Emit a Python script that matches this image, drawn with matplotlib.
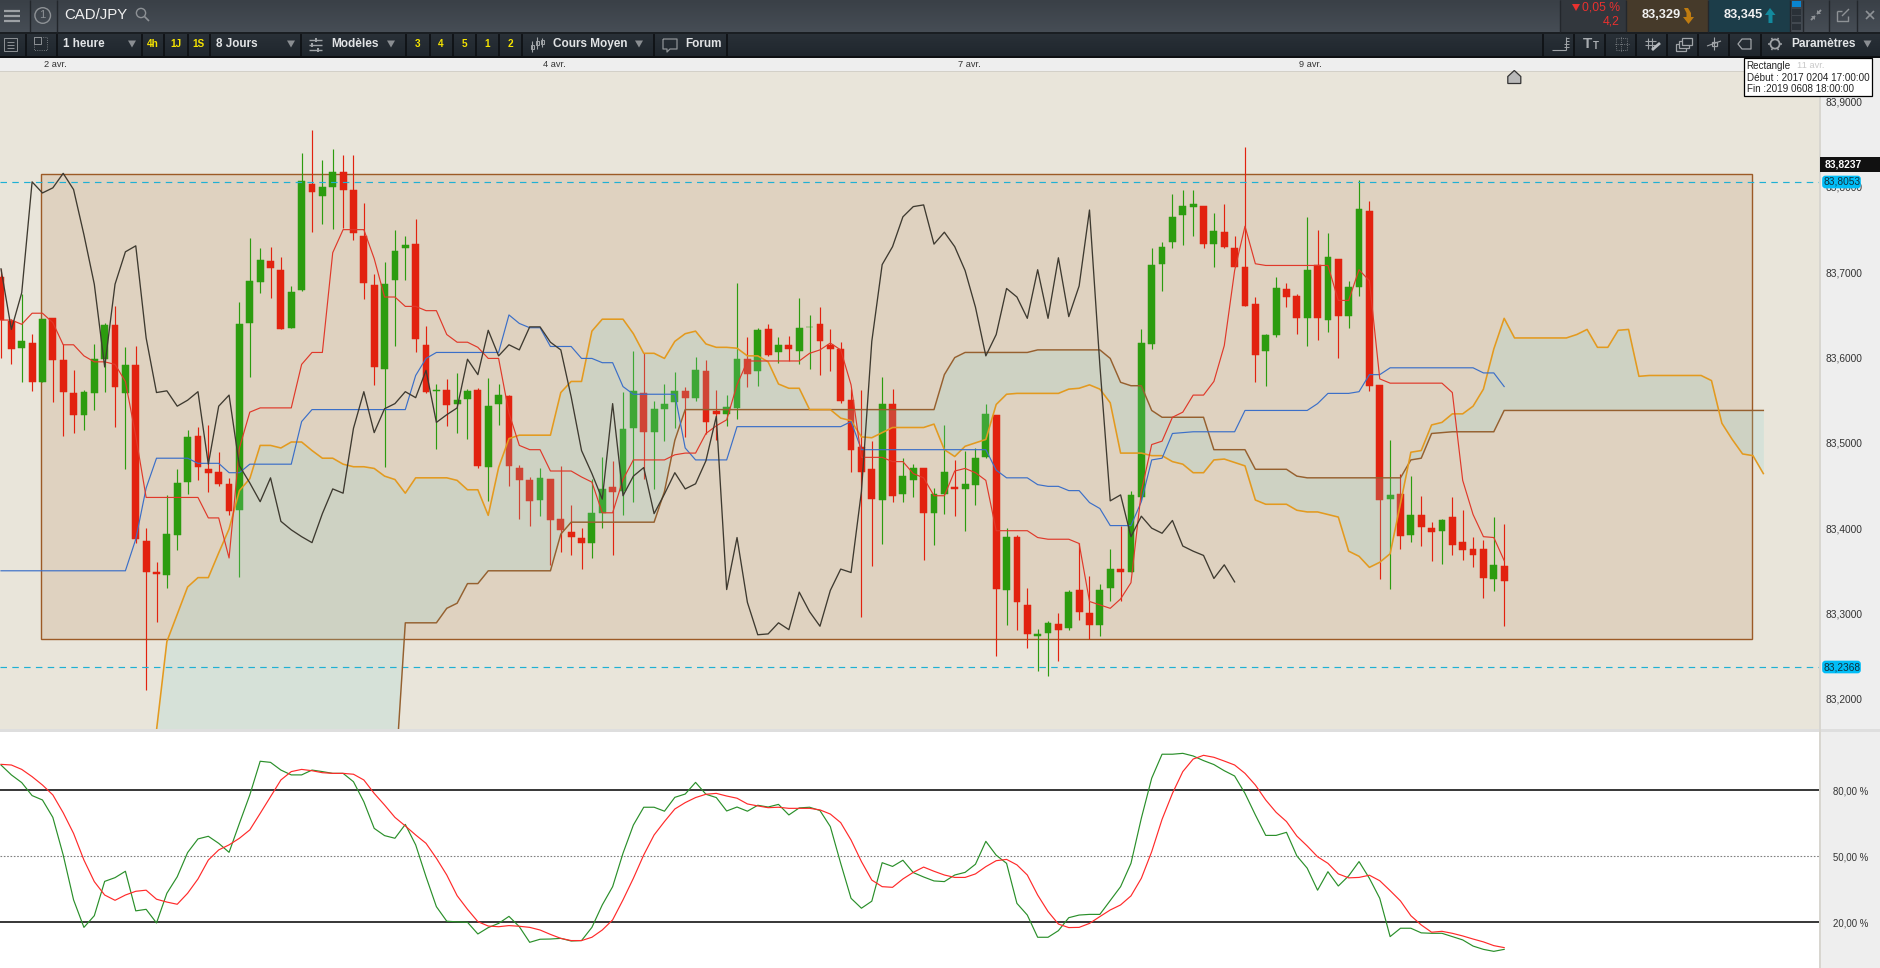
import matplotlib
matplotlib.use("Agg")
import matplotlib.pyplot as plt
import numpy as np
from matplotlib.patches import Rectangle, Polygon, Circle, FancyBboxPatch

plt.rcParams['font.family'] = ['Liberation Sans', 'DejaVu Sans']

# ---------- candle data (CAD/JPY, 1 hour) ----------
directions = ("rrgrgrrrgg" "grgrrrgggr" "rrrgggrrgg" "rggrrrrggg" "rrgrggrggr" "rrgrrrrggr" "ggrgggrgrr" "ggrgrgrggr"
              "rrrrrgrggr" "ggrgggrgrr" "ggrgrrggrg" "ggggggrgrr" "rrggrrgrgr" "ggrrgrgrrg" "rrrrgr")
highs = [83.704,83.645,83.674,83.628,83.645,83.646,83.616,83.585,83.562,83.616,83.641,83.661,83.612,83.613,83.400,83.360,83.439,83.469,83.515,83.519,
 83.521,83.489,83.459,83.665,83.740,83.728,83.730,83.718,83.684,83.840,83.867,83.832,83.845,83.837,83.837,83.781,83.698,83.712,83.750,83.743,
 83.763,83.637,83.569,83.575,83.582,83.563,83.564,83.576,83.569,83.556,83.474,83.460,83.471,83.458,83.473,83.427,83.400,83.458,83.484,83.479,
 83.560,83.608,83.605,83.549,83.569,83.583,83.566,83.601,83.597,83.562,83.556,83.688,83.624,83.635,83.639,83.624,83.625,83.670,83.650,83.659,
 83.633,83.618,83.563,83.562,83.502,83.577,83.563,83.482,83.475,83.471,83.447,83.521,83.480,83.490,83.494,83.546,83.533,83.400,83.392,83.330,
 83.282,83.291,83.301,83.327,83.383,83.344,83.335,83.376,83.403,83.444,83.634,83.729,83.735,83.792,83.796,83.796,83.778,83.770,83.780,83.743,
 83.847,83.671,83.628,83.695,83.688,83.674,83.765,83.749,83.746,83.716,83.690,83.808,83.784,83.568,83.503,83.464,83.461,83.438,83.407,83.411,
 83.437,83.421,83.390,83.386,83.413,83.405]
body_tops = [83.694,83.643,83.619,83.617,83.645,83.646,83.597,83.559,83.560,83.598,83.638,83.638,83.591,83.591,83.385,83.349,83.393,83.453,83.507,83.508,
 83.469,83.466,83.452,83.639,83.690,83.714,83.713,83.703,83.677,83.807,83.804,83.800,83.817,83.818,83.796,83.743,83.685,83.686,83.725,83.732,
 83.733,83.615,83.562,83.562,83.550,83.561,83.562,83.543,83.556,83.555,83.471,83.457,83.459,83.458,83.411,83.395,83.389,83.418,83.446,83.448,
 83.516,83.561,83.559,83.540,83.546,83.561,83.561,83.586,83.584,83.537,83.542,83.598,83.598,83.632,83.633,83.615,83.615,83.635,83.636,83.639,
 83.615,83.610,83.550,83.495,83.469,83.546,83.546,83.461,83.471,83.471,83.440,83.466,83.448,83.452,83.482,83.534,83.533,83.390,83.390,83.310,
 83.276,83.289,83.288,83.325,83.327,83.301,83.327,83.352,83.352,83.439,83.617,83.709,83.730,83.765,83.778,83.780,83.778,83.748,83.747,83.729,
 83.706,83.663,83.626,83.681,83.680,83.672,83.703,83.708,83.718,83.716,83.683,83.774,83.772,83.568,83.439,83.440,83.415,83.415,83.400,83.409,
 83.413,83.384,83.376,83.376,83.357,83.356]
body_bottoms = [83.644,83.610,83.611,83.571,83.571,83.597,83.560,83.533,83.533,83.559,83.598,83.565,83.558,83.387,83.348,83.346,83.345,83.392,83.454,83.472,
 83.465,83.452,83.420,83.421,83.641,83.689,83.705,83.634,83.635,83.679,83.794,83.790,83.800,83.797,83.746,83.688,83.589,83.587,83.691,83.728,
 83.622,83.560,83.561,83.544,83.545,83.551,83.473,83.472,83.546,83.473,83.456,83.432,83.433,83.409,83.398,83.390,83.383,83.383,83.418,83.442,
 83.444,83.518,83.513,83.513,83.540,83.548,83.553,83.553,83.525,83.534,83.534,83.541,83.581,83.584,83.603,83.606,83.610,83.608,83.636,83.619,
 83.610,83.549,83.492,83.466,83.434,83.433,83.438,83.440,83.456,83.418,83.418,83.440,83.446,83.446,83.451,83.484,83.329,83.328,83.313,83.276,
 83.274,83.277,83.281,83.283,83.302,83.286,83.286,83.330,83.349,83.349,83.436,83.616,83.710,83.735,83.767,83.777,83.733,83.733,83.730,83.706,
 83.661,83.603,83.608,83.626,83.671,83.646,83.646,83.646,83.644,83.649,83.649,83.683,83.567,83.433,83.434,83.391,83.392,83.401,83.395,83.397,
 83.380,83.374,83.369,83.342,83.340,83.338]
lows = [83.599,83.593,83.571,83.561,83.571,83.548,83.508,83.511,83.515,83.538,83.560,83.519,83.469,83.383,83.210,83.290,83.330,83.374,83.440,83.457,
 83.442,83.450,83.415,83.343,83.577,83.676,83.670,83.633,83.635,83.678,83.747,83.757,83.751,83.752,83.738,83.669,83.568,83.472,83.613,83.691,
 83.606,83.559,83.493,83.520,83.511,83.505,83.470,83.432,83.521,83.449,83.411,83.402,83.414,83.357,83.372,83.368,83.352,83.365,83.400,83.369,
 83.415,83.431,83.458,83.446,83.502,83.517,83.507,83.549,83.510,83.503,83.520,83.528,83.565,83.567,83.602,83.594,83.596,83.593,83.587,83.580,
 83.584,83.547,83.466,83.296,83.356,83.381,83.431,83.431,83.436,83.363,83.380,83.416,83.414,83.397,83.427,83.482,83.250,83.286,83.280,83.259,
 83.232,83.227,83.244,83.280,83.292,83.270,83.273,83.315,83.314,83.348,83.433,83.610,83.678,83.728,83.732,83.743,83.728,83.706,83.729,83.706,
 83.661,83.571,83.567,83.624,83.659,83.628,83.613,83.621,83.630,83.599,83.635,83.672,83.561,83.340,83.329,83.375,83.384,83.379,83.362,83.358,
 83.369,83.363,83.355,83.318,83.326,83.285]

# ---------- Ichimoku lines ----------
tenkan = [83.644,83.644,83.639,83.652,83.652,83.641,83.615,83.615,83.602,83.595,83.595,83.592,83.572,83.508,83.436,83.436,83.436,83.436,83.436,83.436,
 83.412,83.412,83.365,83.494,83.536,83.541,83.541,83.541,83.541,83.592,83.606,83.606,83.723,83.750,83.750,83.750,83.716,83.671,83.671,83.660,
 83.660,83.655,83.655,83.627,83.618,83.618,83.612,83.599,83.599,83.535,83.497,83.492,83.492,83.467,83.467,83.467,83.460,83.454,83.418,83.418,
 83.457,83.480,83.480,83.480,83.480,83.486,83.488,83.488,83.511,83.520,83.527,83.568,83.596,83.596,83.596,83.596,83.596,83.596,83.605,83.609,
 83.617,83.609,83.568,83.483,83.483,83.483,83.478,83.478,83.464,83.459,83.438,83.438,83.467,83.470,83.465,83.456,83.397,83.397,83.397,83.397,
 83.389,83.387,83.387,83.387,83.382,83.314,83.310,83.306,83.317,83.336,83.443,83.498,83.502,83.530,83.536,83.556,83.556,83.572,83.614,83.702,
 83.754,83.710,83.708,83.708,83.708,83.708,83.708,83.708,83.708,83.667,83.667,83.703,83.690,83.575,83.570,83.570,83.570,83.570,83.570,83.570,
 83.559,83.456,83.416,83.390,83.389,83.362]
kijun = [83.350,83.350,83.350,83.350,83.350,83.350,83.350,83.350,83.350,83.350,83.350,83.350,83.350,83.387,83.447,83.482,83.482,83.482,83.482,83.476,
 83.476,83.476,83.465,83.465,83.475,83.475,83.475,83.475,83.475,83.525,83.539,83.539,83.539,83.539,83.539,83.539,83.539,83.539,83.539,83.539,
 83.579,83.599,83.606,83.606,83.606,83.606,83.606,83.606,83.606,83.650,83.640,83.635,83.635,83.613,83.613,83.613,83.599,83.599,83.594,83.594,
 83.566,83.557,83.557,83.557,83.557,83.557,83.494,83.480,83.480,83.480,83.480,83.519,83.519,83.519,83.519,83.519,83.519,83.519,83.519,83.519,
 83.519,83.519,83.525,83.492,83.492,83.492,83.492,83.492,83.492,83.492,83.492,83.492,83.492,83.492,83.492,83.492,83.468,83.459,83.459,83.459,
 83.451,83.449,83.449,83.444,83.444,83.430,83.423,83.403,83.403,83.403,83.431,83.480,83.482,83.511,83.512,83.513,83.513,83.513,83.513,83.513,
 83.538,83.538,83.538,83.538,83.538,83.538,83.538,83.546,83.558,83.558,83.558,83.560,83.580,83.580,83.588,83.588,83.588,83.588,83.588,83.588,
 83.588,83.588,83.588,83.582,83.582,83.566]
chikou = [83.704,83.633,83.676,83.806,83.793,83.799,83.816,83.797,83.744,83.686,83.589,83.686,83.724,83.731,83.623,83.559,83.561,83.543,83.550,83.560,
 83.475,83.543,83.556,83.473,83.453,83.431,83.459,83.408,83.398,83.390,83.383,83.417,83.446,83.441,83.517,83.560,83.512,83.540,83.546,83.560,
 83.553,83.585,83.524,83.533,83.541,83.598,83.580,83.632,83.602,83.615,83.609,83.636,83.636,83.618,83.609,83.554,83.491,83.464,83.434,83.546,
 83.438,83.461,83.471,83.417,83.440,83.465,83.446,83.452,83.479,83.531,83.328,83.389,83.313,83.275,83.276,83.289,83.281,83.325,83.302,83.285,
 83.327,83.352,83.348,83.443,83.619,83.709,83.730,83.765,83.777,83.779,83.733,83.747,83.730,83.702,83.659,83.602,83.627,83.681,83.671,83.646,
 83.703,83.646,83.717,83.648,83.684,83.773,83.591,83.432,83.439,83.390,83.414,83.400,83.394,83.409,83.379,83.373,83.368,83.341,83.357,83.337]
cloud_start = 15
span_a = [83.163,83.267,83.299,83.331,83.342,83.342,83.371,83.399,83.444,83.458,83.497,83.497,83.494,83.501,83.501,83.491,83.482,83.482,83.475,83.472,
 83.472,83.470,83.461,83.457,83.441,83.459,83.459,83.459,83.459,83.456,83.445,83.445,83.415,83.471,83.505,83.509,83.509,83.509,83.509,83.559,
 83.572,83.572,83.631,83.645,83.645,83.645,83.628,83.605,83.605,83.599,83.619,83.628,83.631,83.616,83.612,83.612,83.611,83.602,83.602,83.595,
 83.569,83.564,83.564,83.539,83.539,83.539,83.529,83.526,83.507,83.506,83.512,83.518,83.518,83.518,83.518,83.522,83.492,83.484,83.496,83.500,
 83.504,83.545,83.557,83.558,83.558,83.558,83.558,83.558,83.563,83.564,83.568,83.563,83.547,83.488,83.488,83.488,83.485,83.485,83.478,83.475,
 83.465,83.465,83.480,83.481,83.477,83.473,83.433,83.428,83.428,83.428,83.421,83.419,83.419,83.416,83.413,83.373,83.367,83.354,83.360,83.370,
 83.429,83.489,83.491,83.521,83.524,83.534,83.534,83.543,83.563,83.610,83.646,83.623,83.623,83.623,83.623,83.623,83.623,83.627,83.633,83.612,
 83.612,83.632,83.633,83.578,83.579,83.579,83.579,83.579,83.579,83.579,83.573,83.523,83.504,83.487,83.485,83.464]
span_b = [83.100,83.100,83.100,83.100,83.100,83.100,83.100,83.100,83.100,83.100,83.100,83.100,83.100,83.100,83.100,83.100,83.100,83.100,83.100,83.100,
 83.100,83.100,83.100,83.100,83.289,83.289,83.289,83.289,83.306,83.312,83.335,83.335,83.350,83.350,83.350,83.350,83.350,83.350,83.350,83.393,
 83.407,83.407,83.407,83.407,83.407,83.407,83.407,83.407,83.407,83.443,83.503,83.539,83.539,83.539,83.539,83.539,83.539,83.539,83.539,83.539,
 83.539,83.539,83.539,83.539,83.539,83.539,83.539,83.539,83.539,83.539,83.539,83.539,83.539,83.539,83.539,83.539,83.580,83.600,83.606,83.606,
 83.606,83.606,83.606,83.606,83.606,83.609,83.609,83.609,83.609,83.609,83.609,83.609,83.599,83.571,83.567,83.567,83.538,83.530,83.530,83.530,
 83.530,83.530,83.492,83.492,83.492,83.492,83.469,83.469,83.469,83.469,83.461,83.459,83.459,83.459,83.459,83.459,83.459,83.459,83.459,83.459,
 83.459,83.480,83.482,83.511,83.512,83.513,83.513,83.513,83.513,83.513,83.538,83.538,83.538,83.538,83.538,83.538,83.538,83.538,83.538,83.538,
 83.538,83.538,83.538,83.538,83.538,83.538,83.538,83.538,83.538,83.538,83.538,83.538,83.538,83.538,83.538,83.538]
rect_left, rect_right, rect_top, rect_bottom = 3.89, 168.94, 83.815, 83.270
level_high, level_low, level_last = 83.8053, 83.2368, 83.8237

# ---------- stochastic ----------
stoch_k = [91.5,87.0,83.5,77.6,75.6,67.7,50.6,30.2,17.7,23.0,38.6,40.3,43.2,25.2,25.9,19.7,33.2,40.7,51.7,57.9,
 59.1,55.9,51.8,65.0,77.9,93.2,92.7,89.2,87.0,87.0,89.2,88.5,87.7,87.7,83.9,74.8,62.7,59.4,58.2,64.5,
 55.2,40.7,27.1,20.5,20.2,20.0,14.7,17.6,19.5,22.7,18.0,10.9,12.3,12.4,12.7,11.5,11.7,17.7,27.9,36.2,
 51.4,64.2,72.3,72.3,70.5,76.8,78.3,83.6,78.2,76.7,70.6,72.4,70.5,73.2,72.4,73.6,68.8,72.0,72.3,70.8,
 63.5,46.8,30.9,26.4,29.6,47.1,45.4,48.2,42.6,40.6,38.8,38.5,41.5,42.7,46.4,56.8,50.5,46.8,28.6,23.3,
 13.2,13.2,16.2,22.1,23.3,23.6,23.6,29.9,36.2,46.8,67.3,85.5,96.4,96.4,96.8,95.6,93.5,91.7,88.9,86.5,
 78.6,68.8,59.5,59.5,60.9,50.2,44.6,34.6,43.0,36.5,41.1,47.6,40.0,30.9,13.5,17.3,17.3,15.2,15.0,15.0,
 13.5,12.0,9.2,7.7,6.8,7.7]
stoch_d = [91.8,91.5,89.5,86.2,82.4,77.9,69.8,60.4,48.3,38.5,32.4,30.0,32.4,34.1,34.6,30.5,29.2,28.2,33.2,39.7,
 48.3,52.9,55.2,58.2,62.0,69.5,77.1,84.7,88.5,89.5,88.9,88.0,87.7,87.7,87.3,84.7,78.6,73.3,67.7,63.8,
 59.7,55.9,49.1,41.5,32.1,25.9,20.3,18.3,18.0,18.5,18.2,17.7,16.5,14.5,12.7,11.7,11.7,13.2,16.5,21.1,
 30.2,40.0,50.6,59.7,65.8,71.5,74.4,76.7,78.2,78.6,77.4,76.4,73.8,72.9,72.1,72.3,71.8,71.8,71.8,71.1,
 69.2,65.3,57.4,47.6,39.2,36.2,35.9,39.7,42.7,45.1,43.2,41.5,40.4,40.4,42.0,45.3,48.0,48.6,46.1,41.5,
 32.4,24.9,19.2,17.6,17.7,19.5,22.6,25.6,27.9,32.0,40.0,52.1,66.8,78.6,88.5,94.2,95.9,95.0,93.3,91.5,
 87.7,82.4,75.6,70.0,65.8,59.2,54.7,49.8,46.8,42.0,40.2,40.4,41.4,38.9,34.4,29.7,23.0,18.8,15.5,15.9,
 15.0,13.8,12.4,11.1,9.4,8.5]

price_ticks = [83.2, 83.3, 83.4, 83.5, 83.6, 83.7, 83.8, 83.9]
date_pos = [5.28, 53.35, 93.4, 126.3]
date_labels = ["2 avr.", "4 avr.", "7 avr.", "9 avr."]
stoch_ticks = [20, 50, 80]

for name, seq in [('h', highs), ('t', body_tops), ('b', body_bottoms), ('l', lows), ('tk', tenkan), ('kj', kijun),
                  ('k', stoch_k), ('d', stoch_d)]:
    assert len(seq) == 146, (name, len(seq))
assert len(directions) == 146, len(directions)
assert len(span_a) == 156, len(span_a)
assert len(span_b) == 156, len(span_b)
assert len(chikou) == 120, len(chikou)

W, H = 1881, 968
fig = plt.figure(figsize=(W / 100, H / 100), dpi=100, facecolor='#eeeeee')

def axes_px(x0, y0, x1, y1, **kw):
    return fig.add_axes([x0 / W, 1 - y1 / H, (x1 - x0) / W, (y1 - y0) / H], **kw)

# ---------- main price panel ----------
BG = '#e9e5da'
ax = axes_px(0, 71, 1819, 729, facecolor=BG)
ax.set_xlim(-0.0965, 175.37)
ax.set_ylim(83.1645, 83.9360)
for s in ax.spines.values():
    s.set_visible(False)

ax.add_patch(Rectangle((rect_left, rect_bottom), rect_right - rect_left, rect_top - rect_bottom,
                       facecolor='#dfd2c0', edgecolor='#9c5a26', lw=1.0, zorder=1))

idx = np.arange(len(highs))
colors = ['#e2220f' if d == 'r' else '#2c9c0f' for d in directions]
ax.vlines(idx, lows, highs, colors=colors, lw=0.85, zorder=2)
ax.bar(idx, np.array(body_tops) - np.array(body_bottoms), bottom=body_bottoms, width=0.66,
       color=colors, linewidth=0.35, edgecolor=colors, zorder=2.1)

cloud_x = np.arange(cloud_start, cloud_start + len(span_a))
ax.fill_between(cloud_x, span_a, span_b, color='#8ad5d0', alpha=0.2, lw=0, zorder=3)

for y in (level_high, level_low):
    ax.axhline(y, color='#1fb0d4', lw=0.85, ls=(0, (5.5, 4.5)), zorder=3.5)

ax.plot(cloud_x, span_b, color='#96602f', lw=1.05, zorder=4)
ax.plot(cloud_x, span_a, color='#e39a1f', lw=1.15, zorder=4.1)
ax.plot(idx, kijun, color='#3b6fc8', lw=0.85, zorder=4.2)
ax.plot(idx, tenkan, color='#e0392a', lw=0.85, zorder=4.3)
ax.plot(np.arange(len(chikou)), chikou, color='#3e3a30', lw=0.95, zorder=4.4)

ax.yaxis.tick_right()
ax.set_yticks(price_ticks)
ax.set_yticklabels([f"{p:.4f}".replace('.', ',') for p in price_ticks], fontsize=7.3, color='#333333')
ax.tick_params(axis='y', length=0, pad=5)
ax.xaxis.tick_top()
ax.set_xticks(date_pos)
ax.set_xticklabels(date_labels, fontsize=6.7, color='#333333')
ax.tick_params(axis='x', length=0, pad=1.2)

# ---------- stochastic panel ----------
ax2 = axes_px(0, 732, 1819, 968, facecolor='white')
ax2.set_xlim(-0.0965, 175.37)
ax2.set_ylim(-0.77, 106.5)
for s in ax2.spines.values():
    s.set_visible(False)
ax2.axhline(80, color='black', lw=1.1, zorder=1)
ax2.axhline(20, color='black', lw=1.1, zorder=1)
ax2.axhline(50, color='#808080', lw=0.8, ls=(0, (1.5, 1.5)), zorder=1)
ax2.plot(idx, stoch_k, color='#2a8f2a', lw=0.85, zorder=2)
ax2.plot(idx, stoch_d, color='#ff2a2a', lw=0.85, zorder=3)
ax2.yaxis.tick_right()
ax2.set_yticks(stoch_ticks)
ax2.set_yticklabels([f"{v},00 %" for v in stoch_ticks], fontsize=6.9, color='#333333')
ax2.tick_params(axis='y', length=0, pad=10)
ax2.set_xticks([])

# ---------- application chrome ----------
ui = fig.add_axes([0, 0, 1, 1], facecolor='none', zorder=10)
ui.set_xlim(0, W)
ui.set_ylim(H, 0)
ui.axis('off')

def rect(x0, y0, x1, y1, c, **kw):
    ui.add_patch(Rectangle((x0, y0), x1 - x0, y1 - y0, facecolor=c, edgecolor=kw.pop('ec', 'none'), lw=kw.pop('lw', 0), **kw))

def line(xs, ys, c='#aeb2b6', lw=0.8, **kw):
    ui.plot(xs, ys, color=c, lw=lw, solid_capstyle='butt', **kw)

def txt(x, y, s, c='#e2e4e6', fs=8.5, ha='left', w='normal', **kw):
    ui.text(x, y, s, color=c, fontsize=fs, ha=ha, va='center', fontweight=w, **kw)

def poly(pts, c, **kw):
    ui.add_patch(Polygon(pts, closed=True, facecolor=c, edgecolor=kw.pop('ec', 'none'), lw=kw.pop('lw', 0), **kw))

def grad(x0, y0, x1, y1, c0, c1):
    a = np.array(matplotlib.colors.to_rgb(c0))
    b = np.array(matplotlib.colors.to_rgb(c1))
    t = np.linspace(0, 1, 32)[:, None, None]
    ui.imshow(a[None, None, :] * (1 - t) + b[None, None, :] * t, extent=(x0, x1, y1, y0), aspect='auto', zorder=0.5)

# separators and axis strips
rect(0, 70.5, 1819, 72, '#d3d0c8')
rect(0, 729, 1881, 732, '#dedede')
rect(1819, 72, 1821, 968, '#d8d6d0')
grad(0, 0, W, 32, '#3a4047', '#464d55')
grad(0, 33, W, 56, '#2a3138', '#1f262d')
rect(0, 32, W, 33.5, '#1a1e22', zorder=1)
rect(0, 56, W, 57.5, '#0d0f12', zorder=1)
ui.set_xlim(0, W)
ui.set_ylim(H, 0)

# top bar left
for yy in (11, 16, 21):
    line([4, 20], [yy, yy], '#9da1a5', 1.6)
line([29.5, 29.5], [0, 32], '#22262b', 1)
line([56.5, 56.5], [0, 32], '#22262b', 1)
ui.add_patch(Circle((42.7, 15.5), 7.8, fill=False, ec='#8e9296', lw=1))
txt(42.7, 15.5, "1", '#8e9296', 8, ha='center')
txt(64, 15, "CAD/JPY", '#f0f0f0', 10.8)
ui.add_patch(Circle((141, 13), 4.6, fill=False, ec='#8e9296', lw=1))
line([144.5, 149], [16.5, 21], '#8e9296', 1.2)

# top bar right
rect(1560, 0, 1625.5, 32, '#32373d')
rect(1626, 0, 1708, 32, '#463a2a')
rect(1708.5, 0, 1790, 32, '#1c3d49')
poly([(1572, 4), (1580, 4), (1576, 11)], '#e8312f')
txt(1620, 7.5, "0,05 %", '#e8312f', 8.8, ha='right')
txt(1620, 21.5, "4,2", '#e8312f', 8.8, ha='right')
txt(1661, 15, "83,329", '#f2f2f2', 9.2, ha='center', w='bold')
txt(1743.5, 15, "83,345", '#f2f2f2', 9.2, ha='center', w='bold')
poly([(1684, 8), (1688, 8), (1691, 13), (1691, 17), (1694, 17), (1688.5, 24), (1683, 17), (1686.5, 17), (1686.5, 13)], '#c07c10')
poly([(1770, 8), (1775.5, 15), (1772.5, 15), (1772.5, 23), (1768.5, 23), (1768.5, 15), (1765, 15)], '#138a9e')
for k, yy in enumerate((1, 8.5, 16, 23.5)):
    rect(1792, yy, 1801, yy + 6, '#0a84d0' if k == 0 else '#2a3138', zorder=2)
for xx in (1560, 1625.5, 1708, 1790, 1802.5, 1829, 1856.5):
    line([xx, xx], [0, 32], '#23272c', 1)
line([1811, 1815], [20, 16], '#8e9296', 1.4); line([1817, 1821], [14, 10], '#8e9296', 1.4)
poly([(1811, 16), (1815, 16), (1815, 20)], '#8e9296'); poly([(1821, 14), (1817, 14), (1817, 10)], '#8e9296')
line([1837, 1837, 1848, 1848], [11, 21, 21, 16], '#8e9296', 1)
line([1837, 1842], [11, 11], '#8e9296', 1)
line([1842, 1849], [16, 9], '#8e9296', 1)
line([1866, 1874], [11, 19], '#8e9296', 1.2); line([1866, 1874], [19, 11], '#8e9296', 1.2)

# toolbar cells
for xx in (25.7, 56.7, 141.5, 164, 187.6, 210, 300.5, 406, 429.5, 452.7, 475.5, 498.8, 521.6, 654.4, 727,
           1543, 1574, 1605, 1636, 1667, 1698, 1729, 1760.7):
    line([xx, xx], [33.5, 56], '#0b0d10', 1.1)
rect(4, 38, 17, 51, 'none', ec='#8e9296', lw=0.7)
for yy in (41.5, 44.5, 47.5):
    line([7, 14], [yy, yy], '#8e9296', 0.7)
rect(34, 37, 40.5, 43.5, 'none', ec='#8e9296', lw=0.7)
rect(34, 37, 47, 50, 'none', ec='#8e9296', lw=0.6, ls=':')
txt(63, 44, "1 heure", fs=8.4, w='bold')
txt(216, 44, "8 Jours", fs=8.4, w='bold')
for xx, s in ((152.7, "4h"), (175.5, "1J"), (198.7, "1S"), (418, "3"), (441, "4"), (464, "5"), (487, "1"), (510, "2")):
    txt(xx, 44, s, '#f6e400', 7.2, ha='center', w='bold')
for xx in (132, 291, 391, 639, 1867.5):
    poly([(xx - 4, 40.5), (xx + 4, 40.5), (xx, 47.5)], '#8a8e92')
for yy, xa, xb in ((39.5, 309, 322), (44.5, 309, 322), (49.5, 309, 322)):
    line([xa, xb], [yy, yy], '#a0a4a8', 1)
for xx, yy in ((316, 39.5), (312, 44.5), (318, 49.5)):
    rect(xx - 1, yy - 2, xx + 1, yy + 2, '#a0a4a8')
txt(331, 44, "Modèles", fs=8.6, w='bold')
for xx, y0, y1, b0, b1 in ((532, 41, 52, 45, 49), (537, 37, 49, 41, 45), (542, 38, 47, 40, 44)):
    line([xx, xx], [y0, y1], '#a0a4a8', 0.8)
    rect(xx - 1.5, b0, xx + 1.5, b1, '#2a3138', ec='#a0a4a8', lw=0.7)
txt(552.6, 44, "Cours Moyen", fs=8.5, w='bold')
line([663, 677, 677, 670, 667, 667, 663, 663], [39, 39, 49, 49, 52, 49, 49, 39], '#8e9296', 0.9)
txt(685, 44, "Forum", fs=8.5, w='bold')

# toolbar right icons
for yy, xa in ((38, 1566), (41, 1566), (44, 1564), (47, 1564)):
    line([xa, 1565 + 4], [yy, yy], '#a0a4a8', 0.7)
line([1552, 1566], [50, 50], '#a0a4a8', 0.8); line([1565.5, 1565.5], [37, 50], '#a0a4a8', 0.8)
txt(1583, 44.5, "T", '#a8acb0', 11, w='bold')
txt(1593, 46, "T", '#a8acb0', 7, w='bold')
rect(1616, 38, 1627, 50, 'none', ec='#8e9296', lw=0.6, ls=':')
line([1615, 1629], [44, 44], '#8e9296', 0.6, ls=':'); line([1621, 1621], [37, 51], '#8e9296', 0.6, ls=':')
for v in (1648, 1652):
    line([v, v], [38, 49], '#a0a4a8', 0.8)
for v in (41, 45):
    line([1645, 1656], [v, v], '#a0a4a8', 0.8)
line([1652, 1660], [50, 43], '#b8bcc0', 2)
for d in (0, 3, 6):
    rect(1676 + d, 44 - d, 1686 + d, 51 - d, '#232a31', ec='#a0a4a8', lw=0.9)
line([1707, 1721], [46, 41], '#a0a4a8', 0.8); line([1714, 1714], [37, 50], '#a0a4a8', 0.8)
rect(1711.5, 41.5, 1716.5, 46, '#232a31', ec='#a0a4a8', lw=0.9)
line([1751, 1742, 1738, 1742, 1751, 1751], [39, 39, 44, 49, 49, 39], '#a0a4a8', 0.9)
ui.add_patch(Circle((1775, 44), 4.6, fill=False, ec='#a0a4a8', lw=1.3))
for a in np.deg2rad([0, 60, 120, 180, 240, 300]):
    line([1775 + 4.6 * np.cos(a), 1775 + 7 * np.cos(a)], [44 + 4.6 * np.sin(a), 44 + 7 * np.sin(a)], '#a0a4a8', 1.1)
txt(1791, 44, "Paramètres", '#e2e4e6', 8.6, w='bold')

# house marker
poly([(1507.8, 83.5), (1507.8, 76.5), (1514.3, 70.5), (1520.8, 76.5), (1520.8, 83.5)], '#b9b9b9', ec='#333333', lw=0.9)

# tooltip
rect(1743.5, 57.5, 1872, 95.5, 'white', ec='black', lw=0.9, zorder=5)
for yy, s in ((66, "Rectangle"), (77.7, "Début : 2017 0204 17:00:00"), (89.3, "Fin :2019 0608 18:00:00")):
    txt(1746.7, yy, s, '#222222', 7.15, zorder=6)
txt(1797, 65.5, "11 avr.", '#c8c8c8', 6.7, zorder=6)

# last price and level labels
rect(1820, 157, 1881, 171.5, '#111111', zorder=3)
txt(1825, 164.5, f"{level_last:.4f}".replace('.', ','), 'white', 7.4, w='bold', zorder=4)
for yc, v in ((182, level_high), (667, level_low)):
    ui.add_patch(FancyBboxPatch((1823, yc - 5.5), 37, 11, boxstyle="round,pad=0,rounding_size=2.5",
                                fc='#00bdf7', ec='#00bdf7', lw=1.2, zorder=3))
    txt(1823.5, yc, f"{v:.4f}".replace('.', ','), '#10303c', 7.3, zorder=4)

fig.savefig("out.png", dpi=100, facecolor=fig.get_facecolor())
